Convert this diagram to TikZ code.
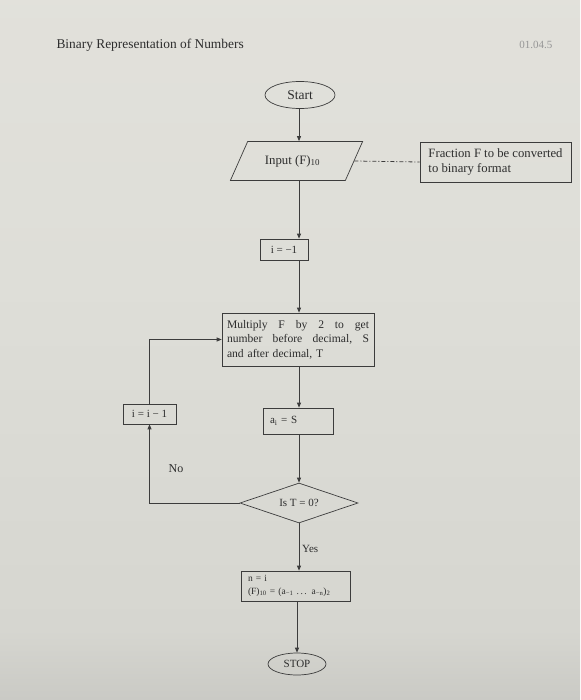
\documentclass[tikz,border=0pt]{standalone}
\usepackage{fontspec}
\setmainfont{Liberation Serif}
\usetikzlibrary{shapes.geometric,arrows.meta}
\definecolor{ink}{RGB}{45,45,45}
\definecolor{lineclr}{RGB}{60,60,60}
\definecolor{pbot}{RGB}{112,112,110}
\definecolor{plow}{RGB}{175,175,172}
\definecolor{pmid}{RGB}{214,214,208}
\definecolor{pmidb}{RGB}{222,222,216}
\definecolor{ptop}{RGB}{230,228,222}
\pgfdeclareverticalshading{paper}{100bp}{color(0bp)=(pbot); color(14bp)=(plow); color(30bp)=(pmid); color(55bp)=(pmidb); color(100bp)=(ptop)}
\newcommand{\fullline}[1]{\leavevmode\hbox to 142pt{#1}}
\begin{document}
\begin{tikzpicture}[x=1pt,y=-1pt,
  every node/.style={text=ink, font=\fontsize{11}{13}\selectfont},
  shp/.style={draw=lineclr, line width=0.7pt, inner sep=0pt},
  box/.style={shp, rectangle},
  arr/.style={draw=lineclr, line width=0.8pt, -{Triangle[length=5pt,width=4pt]}},
  ln/.style={draw=lineclr, line width=0.8pt},
  sm/.style={font=\fontsize{11}{13}\selectfont}]
\useasboundingbox (0,0) rectangle (580,700);
\shade[shading=paper] (0,0) rectangle (580,700);
\coordinate (sp) at (299,0);
% header
\node[anchor=west, font=\fontsize{13.4}{16}\selectfont] (title) at (53,45) {Binary Representation of Numbers};
\node[anchor=east, text={rgb,255:red,150;green,150;blue,150}] (code) at (556,45) {01.04.5};
% nodes
\node[shp, ellipse, minimum width=70pt, minimum height=27pt, font=\fontsize{13.5}{16}\selectfont] (start) at (300,95) {Start};
\node[shp, trapezium, trapezium left angle=46, trapezium right angle=134, trapezium stretches=true, minimum width=133pt, minimum height=39pt, font=\fontsize{12.8}{15}\selectfont] (input) at (296.5,161) {Input (F)\textsubscript{10}\hspace*{8pt}};
\node[box, minimum width=151pt, minimum height=40pt, align=left, font=\fontsize{12.7}{15}\selectfont] (note) at (495.5,162) {Fraction F to be converted\\to binary format};
\node[box, sm, minimum width=48pt, minimum height=21pt] (initbox) at (284,249.5) {i = −1};
\node[box, text width=142pt, inner xsep=5pt, minimum height=53pt, align=left, font=\fontsize{11.6}{14.5}\selectfont] (mult) at (298,339.5) {\fullline{Multiply\hfil F\hfil by\hfil 2\hfil to\hfil get}\\\fullline{number\hfil before\hfil decimal,\hfil S}\\and after decimal, T};
\node[box, sm, text width=56pt, inner xsep=7pt, minimum height=26pt, align=left] (assign) at (298,421) {a\textsubscript{i} = S};
\node[box, sm, minimum width=53pt, minimum height=20pt] (dec) at (149.5,414) {i = i − 1};
\node[shp, sm, diamond, aspect=2.95, minimum width=118pt, minimum height=40pt] (cond) at (299,503) {Is T = 0?};
\node[box, text width=95pt, inner xsep=7pt, minimum height=30pt, align=left, font=\fontsize{9.5}{12.5}\selectfont] (final) at (295.5,586) {n = i\\(F)\textsubscript{10} = (a\textsubscript{−1} .\,.\,. a\textsubscript{−n})\textsubscript{2}};
\node[shp, ellipse, sm, minimum width=58pt, minimum height=22pt] (stop) at (297,664) {STOP};
\node[font=\fontsize{12}{14}\selectfont] (no) at (176,469) {No};
\node[sm, anchor=west, inner sep=1pt] (yes) at (301,549) {Yes};
% connectors
\draw[arr] (start.south -| sp) -- (input.north -| sp);
\draw[ln, dash pattern=on 4pt off 2pt on 1pt off 2pt] (input.east) -- (note.west);
\draw[arr] (input.south -| sp) -- (initbox.north -| sp);
\draw[arr] (initbox.south -| sp) -- (mult.north -| sp);
\draw[arr] (mult.south -| sp) -- (assign.north -| sp);
\draw[arr] (assign.south -| sp) -- (cond.north);
\draw[arr] (cond.west) -| (dec.south);
\draw[arr] (dec.north) |- (mult.west);
\draw[arr] (cond.south) -- (final.north -| sp);
\draw[arr] (final.south -| stop.north) -- (stop.north);
\end{tikzpicture}
\end{document}
